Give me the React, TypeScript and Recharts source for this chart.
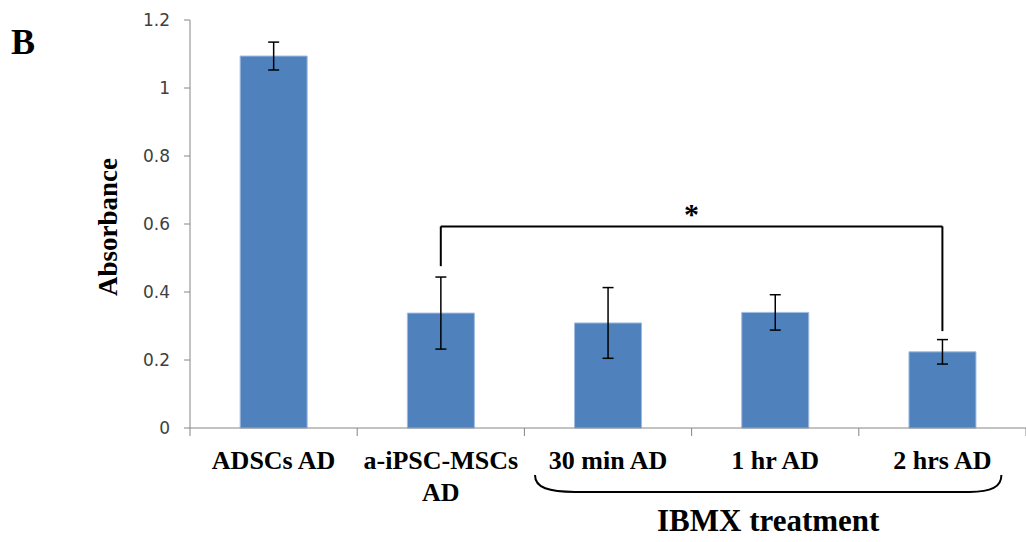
import { BarChart, Bar, XAxis, YAxis, ErrorBar, ReferenceLine } from 'recharts';

const categories = ['ADSCs AD', 'a-iPSC-MSCs AD', '30 min AD', '1 hr AD', '2 hrs AD'];
const tickLines = [['ADSCs AD'], ['a-iPSC-MSCs', 'AD'], ['30 min AD'], ['1 hr AD'], ['2 hrs AD']];
const absorbance = [1.094, 0.338, 0.309, 0.340, 0.224];
const errors = [0.041, 0.106, 0.104, 0.052, 0.036];
const yTicks = [0, 0.2, 0.4, 0.6, 0.8, 1, 1.2];

// significance bracket (data units)
const sigFrom = 'a-iPSC-MSCs AD';
const sigTo = '2 hrs AD';
const sigTop = 0.593;
const sigLeftFoot = 0.476;
const sigRightFoot = 0.285;

// treatment group brace below the axis
const groupFrom = '30 min AD';
const groupTo = '2 hrs AD';
const groupY = -0.138;
const groupLabel = 'IBMX treatment';

const rows = categories.map((name, i) => ({ name, value: absorbance[i], err: errors[i] }));

const serif = '"Liberation Serif", "Times New Roman", serif';
const axisGrey = '#868686';
const TICK_LEN = 8;

// excel-style: tick marks sit between categories, labels centred in the band
function CategoryTick(props: any) {
  const { x, y, payload, width, visibleTicksCount } = props;
  const idx = categories.indexOf(payload.value);
  const lines = tickLines[idx] || [payload.value];
  const half = width / (visibleTicksCount || categories.length) / 2;
  const isLast = idx === categories.length - 1;
  return (
    <g>
      <line x1={x - half} x2={x - half} y1={y - TICK_LEN} y2={y} stroke={axisGrey} />
      {isLast && <line x1={x + half} x2={x + half} y1={y - TICK_LEN} y2={y} stroke={axisGrey} />}
      <text x={x} y={y} textAnchor="middle" fontFamily={serif} fontWeight="bold" fontSize={26} fill="#000">
        {lines.map((l, i) => (
          <tspan key={i} x={x} dy={i === 0 ? 33 : 31.7}>
            {l}
          </tspan>
        ))}
      </text>
    </g>
  );
}

function Brace(props: any) {
  const { x1, x2, y1 } = props;
  const xl = x1 - 73;
  const xr = x2 + 59;
  const y = y1;
  const d = `M${xl},${y} C${xl},${y + 13} ${xl + 14},${y + 17} ${xl + 40},${y + 17} L${xr - 32},${y + 17} C${xr - 10},${y + 17} ${xr},${y + 12} ${xr},${y}`;
  return (
    <g>
      <path d={d} fill="none" stroke="#000" strokeWidth={2} />
      <text x={(xl + xr) / 2} y={y + 56} textAnchor="middle" fontFamily={serif} fontWeight="bold" fontSize={31} fill="#000">
        {groupLabel}
      </text>
    </g>
  );
}

export default function App() {
  return (
    <div style={{ position: 'absolute', left: 0, top: 0, width: 1026, height: 542, background: '#fff' }}>
      <div
        style={{
          position: 'absolute',
          left: 11,
          top: 22,
          fontFamily: serif,
          fontWeight: 'bold',
          fontSize: 36,
          lineHeight: '40px',
        }}
      >
        B
      </div>
      <BarChart
        width={1026}
        height={542}
        data={rows}
        margin={{ top: 20, right: 0, left: 0, bottom: 14 }}
        barCategoryGap="30%"
      >
        <XAxis
          dataKey="name"
          height={100}
          axisLine={{ stroke: axisGrey }}
          tickLine={false}
          tickSize={TICK_LEN}
          tickMargin={0}
          interval={0}
          tick={<CategoryTick />}
        />
        <YAxis
          domain={[0, 1.2]}
          ticks={yTicks}
          width={190}
          axisLine={{ stroke: axisGrey }}
          tickLine={{ stroke: axisGrey }}
          tickSize={6}
          tickMargin={14}
          tick={{ fontSize: 17, fill: '#404040', fontFamily: '"DejaVu Sans", sans-serif' }}
          label={{
            content: (p: any) => {
              const vb = p.viewBox;
              const cx = vb.x + 117;
              const cy = vb.y + vb.height / 2 + 3;
              return (
                <text
                  x={cx}
                  y={cy}
                  transform={`rotate(-90, ${cx}, ${cy})`}
                  textAnchor="middle"
                  fontFamily={serif}
                  fontWeight="bold"
                  fontSize={27}
                  fill="#000"
                >
                  Absorbance
                </text>
              );
            },
          }}
        />
        <Bar dataKey="value" fill="#4F81BD" stroke="#9fbbe0" strokeWidth={1} isAnimationActive={false}>
          <ErrorBar dataKey="err" width={5.5} stroke="#000" strokeWidth={1.5} />
        </Bar>
        <ReferenceLine
          segment={[
            { x: sigFrom, y: sigTop },
            { x: sigTo, y: sigTop },
          ]}
          stroke="#000"
          strokeWidth={2}
          label={{ value: '*', position: 'top', offset: 2, fontSize: 30, fontWeight: 'bold', fontFamily: serif, fill: '#000' }}
        />
        <ReferenceLine
          segment={[
            { x: sigFrom, y: sigTop },
            { x: sigFrom, y: sigLeftFoot },
          ]}
          stroke="#000"
          strokeWidth={2}
        />
        <ReferenceLine
          segment={[
            { x: sigTo, y: sigTop },
            { x: sigTo, y: sigRightFoot },
          ]}
          stroke="#000"
          strokeWidth={2}
        />
        <ReferenceLine
          segment={[
            { x: groupFrom, y: groupY },
            { x: groupTo, y: groupY },
          ]}
          ifOverflow="visible"
          shape={<Brace />}
        />
      </BarChart>
    </div>
  );
}
